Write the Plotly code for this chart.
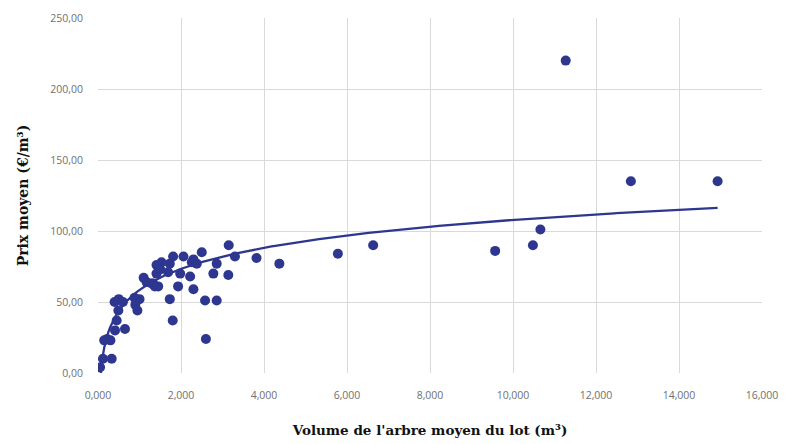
import numpy as np
import plotly.graph_objects as go

# Volume de l'arbre moyen du lot (m3)
volume = [0.05, 0.12, 0.33, 0.15, 0.30, 0.22, 0.41, 0.65, 0.45, 0.49,
          0.40, 0.50, 0.60, 0.88, 1.00, 0.95, 0.90, 1.10, 1.17, 1.33,
          1.45, 1.29, 1.37, 1.41, 1.41, 1.53, 1.50, 1.69, 1.73, 1.81,
          2.06, 1.98, 2.22, 2.26, 2.38, 2.30, 2.50, 2.78, 2.86, 3.14,
          3.15, 3.30, 1.93, 2.30, 1.73, 2.58, 2.86, 1.80, 2.60, 3.82,
          4.37, 5.78, 6.63, 9.57, 10.48, 10.66, 11.27, 12.84, 14.93]
# Prix moyen (EUR/m3)
prix = [4, 10, 10, 23, 23, 24, 30, 31, 37, 44,
        50, 52, 50, 53, 52, 44, 48, 67, 64, 63,
        61, 63, 61, 70, 76, 78, 73, 71, 77, 82,
        82, 70, 68, 78, 77, 80, 85, 70, 77, 69,
        90, 82, 61, 59, 52, 51, 51, 37, 24, 81,
        77, 84, 90, 86, 90, 101, 220, 135, 135]

# logarithmic trendline coefficients: y = A*ln(x) + B
TREND_A = 21.4
TREND_B = 58.5

x_ticks = [0, 2, 4, 6, 8, 10, 12, 14, 16]
x_tick_text = ["0,000", "2,000", "4,000", "6,000", "8,000", "10,000", "12,000", "14,000", "16,000"]
y_ticks = [0, 50, 100, 150, 200, 250]
y_tick_text = ["0,00", "50,00", "100,00", "150,00", "200,00", "250,00"]

color = "#2E3790"

xt = np.linspace(min(volume), max(volume), 300)
yt = TREND_A * np.log(xt) + TREND_B

fig = go.Figure()
fig.add_trace(go.Scatter(x=volume, y=prix, mode="markers",
                         marker=dict(color=color, size=10, line=dict(width=0)),
                         showlegend=False))
fig.add_trace(go.Scatter(x=xt, y=yt, mode="lines",
                         line=dict(color=color, width=2.3), showlegend=False))

tick_font = dict(family="Open Sans, sans-serif", size=10.5, color="#707070")
xtitle_font = dict(family="DejaVu Serif, serif", size=13.5, color="#111111")
ytitle_font = dict(family="DejaVu Serif, serif", size=14, color="#111111")

fig.update_layout(
    width=791, height=444,
    margin=dict(l=98, r=29, t=18, b=71),
    paper_bgcolor="white", plot_bgcolor="white",
    xaxis=dict(range=[0, 16], tickvals=x_ticks, ticktext=x_tick_text,
               showgrid=True, gridcolor="#d9d9d9", gridwidth=1,
               zeroline=False, showline=False, tickfont=tick_font,
               ticklabelstandoff=14, automargin=False,
               title=dict(text="<b>Volume de l'arbre moyen du lot (m³)</b>", font=xtitle_font, standoff=25)),
    yaxis=dict(range=[0, 250], tickvals=y_ticks, ticktext=y_tick_text,
               showgrid=True, gridcolor="#d9d9d9", gridwidth=1,
               zeroline=False, showline=False, tickfont=tick_font,
               ticklabelstandoff=14, automargin=False,
               title=dict(text="<b>Prix moyen (€/m³)</b>", font=ytitle_font, standoff=18)),
)

fig.write_html("out.html")
